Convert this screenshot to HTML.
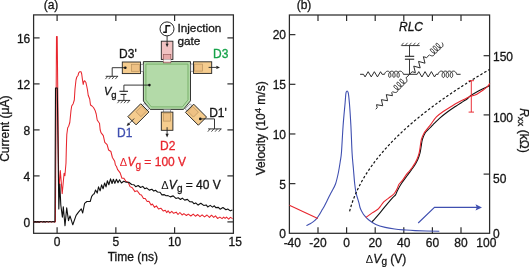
<!DOCTYPE html>
<html><head><meta charset="utf-8"><style>
html,body{margin:0;padding:0;background:#fff;}
body{width:529px;height:267px;overflow:hidden;}
svg{display:block;will-change:transform;font-family:"Liberation Sans",sans-serif;font-size:12px;fill:#151515;}
text{stroke:#151515;stroke-width:0.3px;}
</style></head><body>
<svg width="529" height="267" viewBox="0 0 529 267">
<rect x="33.6" y="14.9" width="199.8" height="218.4" fill="none" stroke="#2b2b2b" stroke-width="1.25"/>
<line x1="57.1" y1="233.3" x2="57.1" y2="227.3" stroke="#2b2b2b" stroke-width="1.2"/>
<line x1="57.1" y1="14.9" x2="57.1" y2="20.9" stroke="#2b2b2b" stroke-width="1.2"/>
<line x1="115.85" y1="233.3" x2="115.85" y2="227.3" stroke="#2b2b2b" stroke-width="1.2"/>
<line x1="115.85" y1="14.9" x2="115.85" y2="20.9" stroke="#2b2b2b" stroke-width="1.2"/>
<line x1="174.6" y1="233.3" x2="174.6" y2="227.3" stroke="#2b2b2b" stroke-width="1.2"/>
<line x1="174.6" y1="14.9" x2="174.6" y2="20.9" stroke="#2b2b2b" stroke-width="1.2"/>
<line x1="33.6" y1="221.9" x2="39.6" y2="221.9" stroke="#2b2b2b" stroke-width="1.2"/>
<line x1="233.4" y1="221.9" x2="227.4" y2="221.9" stroke="#2b2b2b" stroke-width="1.2"/>
<line x1="33.6" y1="175.9" x2="39.6" y2="175.9" stroke="#2b2b2b" stroke-width="1.2"/>
<line x1="233.4" y1="175.9" x2="227.4" y2="175.9" stroke="#2b2b2b" stroke-width="1.2"/>
<line x1="33.6" y1="129.9" x2="39.6" y2="129.9" stroke="#2b2b2b" stroke-width="1.2"/>
<line x1="233.4" y1="129.9" x2="227.4" y2="129.9" stroke="#2b2b2b" stroke-width="1.2"/>
<line x1="33.6" y1="83.9" x2="39.6" y2="83.9" stroke="#2b2b2b" stroke-width="1.2"/>
<line x1="233.4" y1="83.9" x2="227.4" y2="83.9" stroke="#2b2b2b" stroke-width="1.2"/>
<line x1="33.6" y1="37.9" x2="39.6" y2="37.9" stroke="#2b2b2b" stroke-width="1.2"/>
<line x1="233.4" y1="37.9" x2="227.4" y2="37.9" stroke="#2b2b2b" stroke-width="1.2"/>
<text x="30.3" y="226.5" text-anchor="end">0</text>
<text x="30.3" y="180.5" text-anchor="end">4</text>
<text x="30.3" y="134.5" text-anchor="end">8</text>
<text x="30.3" y="88.5" text-anchor="end">12</text>
<text x="30.3" y="42.5" text-anchor="end">16</text>
<text x="57.1" y="246" text-anchor="middle">0</text>
<text x="115.85" y="246" text-anchor="middle">5</text>
<text x="174.6" y="246" text-anchor="middle">10</text>
<text x="235.15" y="246" text-anchor="middle">15</text>
<text x="51" y="8.9" text-anchor="middle">(a)</text>
<text x="132.8" y="260.6" text-anchor="middle">Time (ns)</text>
<text transform="translate(9.2,128.7) rotate(-90)" text-anchor="middle">Current (μA)</text>
<rect x="289.4" y="15" width="200.2" height="218.3" fill="none" stroke="#2b2b2b" stroke-width="1.25"/>
<line x1="318" y1="233.3" x2="318" y2="227.3" stroke="#2b2b2b" stroke-width="1.2"/>
<line x1="318" y1="15" x2="318" y2="21" stroke="#2b2b2b" stroke-width="1.2"/>
<line x1="346.6" y1="233.3" x2="346.6" y2="227.3" stroke="#2b2b2b" stroke-width="1.2"/>
<line x1="346.6" y1="15" x2="346.6" y2="21" stroke="#2b2b2b" stroke-width="1.2"/>
<line x1="375.2" y1="233.3" x2="375.2" y2="227.3" stroke="#2b2b2b" stroke-width="1.2"/>
<line x1="375.2" y1="15" x2="375.2" y2="21" stroke="#2b2b2b" stroke-width="1.2"/>
<line x1="403.8" y1="233.3" x2="403.8" y2="227.3" stroke="#2b2b2b" stroke-width="1.2"/>
<line x1="403.8" y1="15" x2="403.8" y2="21" stroke="#2b2b2b" stroke-width="1.2"/>
<line x1="432.4" y1="233.3" x2="432.4" y2="227.3" stroke="#2b2b2b" stroke-width="1.2"/>
<line x1="432.4" y1="15" x2="432.4" y2="21" stroke="#2b2b2b" stroke-width="1.2"/>
<line x1="461" y1="233.3" x2="461" y2="227.3" stroke="#2b2b2b" stroke-width="1.2"/>
<line x1="461" y1="15" x2="461" y2="21" stroke="#2b2b2b" stroke-width="1.2"/>
<line x1="289.4" y1="183.64" x2="295.4" y2="183.64" stroke="#2b2b2b" stroke-width="1.2"/>
<line x1="289.4" y1="133.97" x2="295.4" y2="133.97" stroke="#2b2b2b" stroke-width="1.2"/>
<line x1="289.4" y1="84.31" x2="295.4" y2="84.31" stroke="#2b2b2b" stroke-width="1.2"/>
<line x1="289.4" y1="34.64" x2="295.4" y2="34.64" stroke="#2b2b2b" stroke-width="1.2"/>
<line x1="489.6" y1="174.1" x2="483.6" y2="174.1" stroke="#2b2b2b" stroke-width="1.2"/>
<line x1="489.6" y1="114.9" x2="483.6" y2="114.9" stroke="#2b2b2b" stroke-width="1.2"/>
<line x1="489.6" y1="55.7" x2="483.6" y2="55.7" stroke="#2b2b2b" stroke-width="1.2"/>
<text x="286" y="237.6" text-anchor="end">0</text>
<text x="286" y="188.94" text-anchor="end">5</text>
<text x="286" y="139.27" text-anchor="end">10</text>
<text x="286" y="88.95" text-anchor="end">15</text>
<text x="286" y="38.64" text-anchor="end">20</text>
<text x="493" y="237.6">0</text>
<text x="493" y="183.2">50</text>
<text x="493" y="121.8">100</text>
<text x="493" y="61.2">150</text>
<text x="292.3" y="247" text-anchor="middle">-40</text>
<text x="318" y="247" text-anchor="middle">-20</text>
<text x="346.6" y="247" text-anchor="middle">0</text>
<text x="375.2" y="247" text-anchor="middle">20</text>
<text x="403.8" y="247" text-anchor="middle">40</text>
<text x="432.4" y="247" text-anchor="middle">60</text>
<text x="461" y="247" text-anchor="middle">80</text>
<text x="486.3" y="247" text-anchor="middle">100</text>
<text x="304" y="8.9" text-anchor="middle">(b)</text>
<text x="386" y="262.5" text-anchor="middle"><tspan style="stroke-width:0" font-size="11">Δ</tspan><tspan font-style="italic" dx="0.3">V</tspan><tspan font-size="10" dy="2.5">g</tspan><tspan dy="-2.5"> (V)</tspan></text>
<text transform="translate(264.8,128.3) rotate(-90)" text-anchor="middle">Velocity (10<tspan font-size="9.5" dy="-4.2">4</tspan><tspan dy="4.2"> m/s)</tspan></text>
<text transform="translate(519.8,130.4) rotate(90)" text-anchor="middle"><tspan font-style="italic">R</tspan><tspan font-size="9.5" dy="2">xx</tspan><tspan dy="-2"> (kΩ)</tspan></text>
<polyline points="33.7,222.15 35,221.47 36.58,222.11 38.11,221.51 39.71,222.14 41.19,221.55 42.67,222.08 44.18,221.53 45.61,222.1 47.18,221.46 48.79,222.13 50.22,221.45 51.84,222.09 53.33,221.5 54.77,222.14 55.4,221.8 56.5,36.4 57.2,36.4 58.8,192 60.3,170.6 62.2,193.6 64.1,173.2 64.9,175.7 66,163 66.3,150 66.6,140 66.8,134.5 67.7,127.7 68.7,126.2 69.8,122.5 71,110.5 71.7,106 73.2,103.7 74.3,100 75,89 76,80 76.8,77 78,75.5 78.7,72.8 79.8,71.7 81,71.7 81.7,74 82.5,80 83.2,84.5 84,81.2 84.7,80.7 85.8,82.2 86.7,86 87.5,90 88.2,95.2 89.7,99 90.5,105 92,106 93.5,107.5 95,110.2 96.2,114 97.2,120 98.7,122.2 99.5,123.3 100.2,130 101,132.6 103.3,135.6 104.8,142.4 107.1,144.7 108.6,150 110.9,151.5 112.4,157.5 114.7,161.3 115.4,165 116.5,166.5 117.5,169.38 120.15,172.93 121.94,178.26 123.74,178.17 125.88,181.18 128.27,182.49 130.06,186.65 132.27,187.77 134.93,191.61 137.18,190.81 139.81,194.41 141.43,194.89 143.49,198.43 145.25,198.56 147.19,201.59 148.93,201.3 151.06,205 152.39,204 154.57,207.34 156.39,205.84 158.52,208.99 160.83,208.19 163.37,211.08 165.23,210.2 166.7,212.59 168.1,210.69 169.81,213.07 171.75,211.27 173.57,213.33 176.2,212.16 178,214.5 179.89,212.51 182.1,214.97 183.9,213.64 186.41,215.49 188.28,214.11 190.84,215.99 193.22,214.14 195.42,216.21 197.78,214.51 199.98,216.62 202.09,214.83 204.52,216.91 207.02,215 209.43,217.42 211.51,215.19 213.72,217.42 215.51,215.9 217.54,218.42 219.88,217.09 222.06,218.61 223.66,217.14 225.1,218.38 226.5,217.15 228.69,219.09 230.4,217.34 232.63,218.62" fill="none" stroke="#e8262e" stroke-width="1.05" stroke-linejoin="round"/>
<polyline points="33.7,222.14 35.27,221.63 36.57,222.1 37.88,221.63 39.21,222.14 40.74,221.57 42.4,222.08 43.82,221.63 45.38,222.1 46.68,221.57 48.1,222.08 49.73,221.59 51.24,222.09 52.96,221.56 54.3,222.02 54.9,221.8 55.5,88 57.3,88 58.8,209 59.8,184 60.8,205 62.4,217.3 63.3,206.9 65,225.8 66.7,207.8 68.5,220.6 70,215.9 72.8,224.8 76.1,215.4 78.5,212.1 81.3,208.8 82.7,213 84.6,203.4 86.9,201.5 90.2,201.5 91.7,196.3 93.5,194 94.2,193.87 95.54,190.03 97.22,193.09 98.51,186.89 100.11,190.86 101.61,184.9 103.06,188.74 104.64,183.01 106.04,186.9 107.4,180.74 108.85,184.77 110.53,178.88 112.06,183.49 113.38,179.27 114.87,183.35 116.44,179.28 117.99,182.76 119.53,179.72 121.43,182.99 123.69,181.2 126.12,182.29 128.8,182.27 131.67,184.48 133.78,184.73 135.72,186.72 138.18,185.47 140.53,187.53 142.75,186.37 144.74,188.68 146.56,187.9 149.26,190.14 151.86,189.24 153.79,191.11 155.42,190.28 157.54,192 160.03,192.29 161.95,194.92 164.33,194.64 166.09,195.73 168.04,195.63 170.32,196.89 173.18,195.87 175.9,198.44 178.18,197.75 180.53,199.49 182.27,198.16 184.69,200.15 187.4,199.38 189.9,201.8 192.33,201.9 193.9,203.66 195.72,202.91 198.12,205.06 200.78,203.19 203.69,205.42 206.2,204.93 207.69,206.93 210.2,205.4 212.56,207.1 214.35,205.79 215.78,207.59 218.4,207.35 220.1,209.19 222.94,207.51 225.94,209.77 227.71,209.07 230.35,210.84 232.41,210.06" fill="none" stroke="#111" stroke-width="1.1" stroke-linejoin="round"/>
<path d="M306.4,225.6 C307.03,225.28 309.03,224.37 310.2,223.7 C311.37,223.03 312.33,222.45 313.4,221.6 C314.47,220.75 315.55,219.85 316.6,218.6 C317.65,217.35 318.75,215.6 319.7,214.1 C320.65,212.6 321.45,211.08 322.3,209.6 C323.15,208.12 323.95,206.78 324.8,205.2 C325.65,203.62 326.55,201.8 327.4,200.1 C328.25,198.4 329.15,196.48 329.9,195 C330.65,193.52 330.95,193.08 331.9,191.2 C332.85,189.32 334.52,186.82 335.6,183.7 C336.68,180.58 337.62,176.25 338.4,172.5 C339.18,168.75 339.78,164.62 340.3,161.2 C340.82,157.78 341.03,157.92 341.5,152 C341.97,146.08 342.5,133.87 343.1,125.7 C343.7,117.53 344.6,108.57 345.1,103 C345.6,97.43 345.6,94.08 346.1,92.3 C346.6,90.52 347.55,90.52 348.1,92.3 C348.65,94.08 348.93,97.43 349.4,103 C349.87,108.57 350.45,117.32 350.9,125.7 C351.35,134.08 351.68,146.13 352.1,153.3 C352.52,160.47 352.97,163.63 353.4,168.7 C353.83,173.77 354.25,179.63 354.7,183.7 C355.15,187.77 355.42,190 356.1,193.1 C356.78,196.2 358.12,199.82 358.8,202.3 C359.48,204.78 359.67,206.42 360.2,208 C360.73,209.58 361.28,210.53 362,211.8 C362.72,213.07 363.3,214.18 364.5,215.6 C365.7,217.02 367.32,218.82 369.2,220.3 C371.08,221.78 373.13,223.32 375.8,224.5 C378.47,225.68 382.05,226.65 385.2,227.4 C388.35,228.15 391.55,228.58 394.7,229 C397.85,229.42 400.7,229.63 404.1,229.9 C407.5,230.17 409.23,230.37 415.1,230.6 C420.97,230.83 435.27,231.18 439.3,231.3" fill="none" stroke="#3f4fb0" stroke-width="1.1" stroke-linejoin="round"/>
<line x1="289.4" y1="205.2" x2="317.8" y2="218.6" stroke="#e8262e" stroke-width="1.1"/>
<path d="M372,221.7 C372.47,221.23 373.4,220.45 374.8,218.9 C376.2,217.35 378.45,214.75 380.4,212.4 C382.35,210.05 384.45,207.27 386.5,204.8 C388.55,202.33 391.2,199.25 392.7,197.6 C394.2,195.95 394.7,196.1 395.5,194.9 C396.3,193.7 396.48,192.33 397.5,190.4 C398.52,188.47 400.07,185.67 401.6,183.3 C403.13,180.93 405.3,178.12 406.7,176.2 C408.1,174.28 408.95,173.2 410,171.8 C411.05,170.4 412.12,169.07 413,167.8 C413.88,166.53 414.5,165.58 415.3,164.2 C416.1,162.82 417.03,161.3 417.8,159.5 C418.57,157.7 419.37,155.4 419.9,153.4 C420.43,151.4 420.58,149.83 421,147.5 C421.42,145.17 421.73,141.77 422.4,139.4 C423.07,137.03 424.05,134.92 425,133.3 C425.95,131.68 426.82,131.07 428.1,129.7 C429.38,128.33 430.8,126.98 432.7,125.1 C434.6,123.22 437,120.62 439.5,118.4 C442,116.18 444.98,113.83 447.7,111.8 C450.42,109.77 453.25,107.9 455.8,106.2 C458.35,104.5 461.13,102.8 463,101.6 C464.87,100.4 465.73,100 467,99 C468.27,98 468.98,96.78 470.6,95.6 C472.22,94.42 474.65,93.03 476.7,91.9 C478.75,90.77 480.72,89.85 482.9,88.8 C485.08,87.75 488.65,86.13 489.8,85.6" fill="none" stroke="#111" stroke-width="1.1" stroke-linejoin="round"/>
<path d="M365.9,217.5 C366.95,216.73 370.2,214.27 372.2,212.9 C374.2,211.53 376.53,210.4 377.9,209.3 C379.27,208.2 379.38,207.57 380.4,206.3 C381.42,205.03 382.63,203.07 384,201.7 C385.37,200.33 387.12,199.23 388.6,198.1 C390.08,196.97 391.83,195.83 392.9,194.9 C393.97,193.97 394.23,193.67 395,192.5 C395.77,191.33 396.83,189.27 397.5,187.9 C398.17,186.53 398.15,185.58 399,184.3 C399.85,183.02 401.32,181.9 402.6,180.2 C403.88,178.5 405.57,175.63 406.7,174.1 C407.83,172.57 408.55,172.02 409.4,171 C410.25,169.98 410.95,169.18 411.8,168 C412.65,166.82 413.63,165.35 414.5,163.9 C415.37,162.45 416.23,161.08 417,159.3 C417.77,157.52 418.58,155.17 419.1,153.2 C419.62,151.23 419.72,149.8 420.1,147.5 C420.48,145.2 420.75,141.77 421.4,139.4 C422.05,137.03 423.07,135 424,133.3 C424.93,131.6 425.9,130.65 427,129.2 C428.1,127.75 429.03,126.65 430.6,124.6 C432.17,122.55 434.23,119.12 436.4,116.9 C438.57,114.68 441.05,113.08 443.6,111.3 C446.15,109.52 449.32,107.65 451.7,106.2 C454.08,104.75 455.52,103.88 457.9,102.6 C460.28,101.32 463.88,99.57 466,98.5 C468.12,97.43 468.98,96.82 470.6,96.2 C472.22,95.58 473.65,95.8 475.7,94.8 C477.75,93.8 480.95,91.55 482.9,90.2 C484.85,88.85 486.25,87.83 487.4,86.7 C488.55,85.57 489.4,83.95 489.8,83.4" fill="none" stroke="#e8262e" stroke-width="1.1" stroke-linejoin="round"/>
<polyline points="349.6,211.3 350.1,209.43 350.6,207.67 351.1,206.01 351.6,204.44 352.1,202.94 352.6,201.5 353.1,200.12 353.6,198.79 354.1,197.5 354.6,196.26 355.1,195.05 355.6,193.87 356.1,192.73 356.6,191.62 357.1,190.53 357.6,189.47 358.1,188.43 358.6,187.42 359.1,186.42 359.6,185.45 360.1,184.49 360.6,183.55 361.1,182.63 361.6,181.72 362.1,180.83 362.6,179.95 363.1,179.08 363.6,178.23 364.1,177.39 364.6,176.56 365.1,175.75 365.6,174.94 366.1,174.15 366.6,173.36 367.1,172.59 367.6,171.82 368.1,171.07 368.6,170.32 369.1,169.58 369.6,168.85 370.1,168.13 370.6,167.41 371.1,166.7 371.6,166 372.1,165.31 372.6,164.62 373.1,163.94 373.6,163.27 374.1,162.6 374.6,161.94 375.1,161.28 375.6,160.63 376.1,159.99 376.6,159.35 377.1,158.71 377.6,158.09 378.1,157.46 378.6,156.84 379.1,156.23 379.6,155.62 380.1,155.02 380.6,154.42 381.1,153.82 381.6,153.23 382.1,152.65 382.6,152.06 383.1,151.49 383.6,150.91 384.1,150.34 384.6,149.77 385.1,149.21 385.6,148.65 386.1,148.1 386.6,147.54 387.1,147 387.6,146.45 388.1,145.91 388.6,145.37 389.1,144.83 389.6,144.3 390.1,143.77 390.6,143.25 391.1,142.72 391.6,142.2 392.1,141.69 392.6,141.17 393.1,140.66 393.6,140.15 394.1,139.65 394.6,139.14 395.1,138.64 395.6,138.15 396.1,137.65 396.6,137.16 397.1,136.67 397.6,136.18 398.1,135.69 398.6,135.21 399.1,134.73 399.6,134.25 400.1,133.77 400.6,133.3 401.1,132.83 401.6,132.36 402.1,131.89 402.6,131.43 403.1,130.96 403.6,130.5 404.1,130.04 404.6,129.59 405.1,129.13 405.6,128.68 406.1,128.23 406.6,127.78 407.1,127.33 407.6,126.89 408.1,126.44 408.6,126 409.1,125.56 409.6,125.12 410.1,124.69 410.6,124.25 411.1,123.82 411.6,123.39 412.1,122.96 412.6,122.53 413.1,122.1 413.6,121.68 414.1,121.25 414.6,120.83 415.1,120.41 415.6,119.99 416.1,119.58 416.6,119.16 417.1,118.75 417.6,118.34 418.1,117.93 418.6,117.52 419.1,117.11 419.6,116.7 420.1,116.3 420.6,115.89 421.1,115.49 421.6,115.09 422.1,114.69 422.6,114.29 423.1,113.89 423.6,113.5 424.1,113.1 424.6,112.71 425.1,112.32 425.6,111.93 426.1,111.54 426.6,111.15 427.1,110.76 427.6,110.38 428.1,109.99 428.6,109.61 429.1,109.23 429.6,108.85 430.1,108.47 430.6,108.09 431.1,107.71 431.6,107.34 432.1,106.96 432.6,106.59 433.1,106.21 433.6,105.84 434.1,105.47 434.6,105.1 435.1,104.73 435.6,104.37 436.1,104 436.6,103.63 437.1,103.27 437.6,102.91 438.1,102.54 438.6,102.18 439.1,101.82 439.6,101.46 440.1,101.1 440.6,100.75 441.1,100.39 441.6,100.04 442.1,99.68 442.6,99.33 443.1,98.97 443.6,98.62 444.1,98.27 444.6,97.92 445.1,97.57 445.6,97.22 446.1,96.88 446.6,96.53 447.1,96.19 447.6,95.84 448.1,95.5 448.6,95.15 449.1,94.81 449.6,94.47 450.1,94.13 450.6,93.79 451.1,93.45 451.6,93.11 452.1,92.78 452.6,92.44 453.1,92.11 453.6,91.77 454.1,91.44 454.6,91.1 455.1,90.77 455.6,90.44 456.1,90.11 456.6,89.78 457.1,89.45 457.6,89.12 458.1,88.79 458.6,88.47 459.1,88.14 459.6,87.82 460.1,87.49 460.6,87.17 461.1,86.84 461.6,86.52 462.1,86.2 462.6,85.88 463.1,85.56 463.6,85.24 464.1,84.92 464.6,84.6 465.1,84.28 465.6,83.97 466.1,83.65 466.6,83.33 467.1,83.02 467.6,82.7 468.1,82.39 468.6,82.08 469.1,81.77 469.6,81.45 470.1,81.14 470.6,80.83 471.1,80.52 471.6,80.21 472.1,79.9 472.6,79.6 473.1,79.29 473.6,78.98 474.1,78.68 474.6,78.37 475.1,78.07 475.6,77.76 476.1,77.46 476.6,77.16 477.1,76.85 477.6,76.55 478.1,76.25 478.6,75.95 479.1,75.65 479.6,75.35 480.1,75.05 480.6,74.75 481.1,74.45 481.6,74.16 482.1,73.86 482.6,73.56 483.1,73.27 483.6,72.97 484.1,72.68 484.6,72.39 485.1,72.09 485.6,71.8 486.1,71.51 486.6,71.21 487.1,70.92 487.6,70.63 488.1,70.34 488.6,70.05 489.1,69.76 489.6,69.48" fill="none" stroke="#111" stroke-width="1.2" stroke-dasharray="2.5 2"/>
<g stroke="#e8262e" stroke-width="0.95"><line x1="471.3" y1="80.7" x2="471.3" y2="112.1"/><line x1="468.6" y1="80.7" x2="474" y2="80.7"/><line x1="468.6" y1="112.1" x2="474" y2="112.1"/></g>
<polyline points="418.2,223 434.5,207.4 477,207.4" fill="none" stroke="#3f4fb0" stroke-width="1.1"/>
<polygon points="482,207.4 475.5,204.2 476.8,207.4 475.5,210.6" fill="#3f4fb0"/>
<text x="119.8" y="165.9" fill="#e8262e" style="fill:#e8262e;stroke:#e8262e"><tspan style="stroke-width:0" font-size="11">Δ</tspan><tspan font-style="italic" dx="0.3">V</tspan><tspan font-size="10" dy="2.6">g</tspan><tspan dy="-2.6"> = 100 V</tspan></text>
<text x="161.2" y="189.1"><tspan style="stroke-width:0" font-size="11">Δ</tspan><tspan font-style="italic" dx="0.3">V</tspan><tspan font-size="10" dy="2.6">g</tspan><tspan dy="-2.6"> = 40 V</tspan></text>
<polygon points="143.4,61.6 190.5,61.6 190.5,100.8 183.5,109.4 150.2,109.4 143.4,101" fill="#b3daa8" stroke="#222" stroke-width="0.9"/>
<polygon points="145.9,64.1 188,64.1 188,99.8 182.4,106.9 151.3,106.9 145.9,100" fill="none" stroke="#6aa85c" stroke-width="0.8"/>
<rect x="163.6" y="54.3" width="7.2" height="8.6" fill="#e7a9a9" stroke="#7a4a4a" stroke-width="0.6"/>
<rect x="161.3" y="41.2" width="11.6" height="18.2" fill="#f1c2c2" stroke="#222" stroke-width="0.9"/>
<rect x="163.6" y="54.3" width="7.2" height="5.1" fill="#e7a9a9" stroke="#8a5050" stroke-width="0.6"/>
<rect x="163.6" y="59.4" width="7.2" height="2.2" fill="#f4f4f4" stroke="none"/>
<line x1="167.1" y1="36" x2="167.1" y2="44" stroke="#222" stroke-width="0.9"/>
<polygon points="167.1,47.2 165.57,43.8 168.63,43.8" fill="#222"/>
<circle cx="167" cy="28.9" r="7" fill="#fff" stroke="#222" stroke-width="1"/>
<polyline points="163.2,32.2 166.1,32.2 166.1,25.8 170.4,25.8" fill="none" stroke="#111" stroke-width="1.5"/>
<text x="177.4" y="32" font-size="11.8">Injection</text>
<text x="177.4" y="45.4" font-size="11.8">gate</text>
<g transform="translate(131.4,67.8) rotate(90)"><rect x="-3.6" y="-11.9" width="7.2" height="3" fill="#eef0f4" stroke="#555" stroke-width="0.5"/><rect x="-5.8" y="-9.1" width="11.6" height="18.2" fill="#f5cc8e" stroke="#222" stroke-width="0.9"/><rect x="-3.5" y="-8.1" width="7" height="8" fill="#eec184" stroke="#b8925e" stroke-width="0.7"/></g>
<circle cx="125.3" cy="67.7" r="1.3" fill="#111"/>
<polyline points="125.3,67.7 112.2,67.7 112.2,76.3" fill="none" stroke="#222" stroke-width="0.9"/>
<line x1="105.7" y1="76.3" x2="118.1" y2="76.3" stroke="#222" stroke-width="0.9"/><line x1="107.8" y1="76.3" x2="105.4" y2="79.1" stroke="#222" stroke-width="0.8"/><line x1="111.1" y1="76.3" x2="108.7" y2="79.1" stroke="#222" stroke-width="0.8"/><line x1="114.4" y1="76.3" x2="112" y2="79.1" stroke="#222" stroke-width="0.8"/><line x1="117.7" y1="76.3" x2="115.3" y2="79.1" stroke="#222" stroke-width="0.8"/>
<text x="119.1" y="57.5">D3'</text>
<g transform="translate(202.6,67.6) rotate(-90)"><rect x="-3.6" y="-11.9" width="7.2" height="3" fill="#eef0f4" stroke="#555" stroke-width="0.5"/><rect x="-5.8" y="-9.1" width="11.6" height="18.2" fill="#f5cc8e" stroke="#222" stroke-width="0.9"/><rect x="-3.5" y="-8.1" width="7" height="8" fill="#eec184" stroke="#b8925e" stroke-width="0.7"/></g>
<line x1="208.6" y1="67.4" x2="216.5" y2="67.4" stroke="#222" stroke-width="0.9"/>
<polygon points="220,67.4 216.4,69.02 216.4,65.78" fill="#222"/>
<text x="213.1" y="57.7" style="fill:#16a34a;stroke:#16a34a">D3</text>
<g transform="translate(167.1,121.2) rotate(0)"><rect x="-3.6" y="-11.9" width="7.2" height="3" fill="#eef0f4" stroke="#555" stroke-width="0.5"/><rect x="-5.8" y="-9.1" width="11.6" height="18.2" fill="#f5cc8e" stroke="#222" stroke-width="0.9"/><rect x="-3.5" y="-8.1" width="7" height="8" fill="#eec184" stroke="#b8925e" stroke-width="0.7"/></g>
<line x1="167.1" y1="127.2" x2="167.1" y2="134" stroke="#222" stroke-width="0.9"/>
<polygon points="167.1,137.4 165.48,133.8 168.72,133.8" fill="#222"/>
<text x="160" y="149.5" style="fill:#e8262e;stroke:#e8262e">D2</text>
<g transform="translate(138.4,114.3) rotate(45)"><rect x="-3.6" y="-11.9" width="7.2" height="3" fill="#eef0f4" stroke="#555" stroke-width="0.5"/><rect x="-5.8" y="-9.1" width="11.6" height="18.2" fill="#f5cc8e" stroke="#222" stroke-width="0.9"/><rect x="-3.5" y="-8.1" width="7" height="8" fill="#eec184" stroke="#b8925e" stroke-width="0.7"/></g>
<line x1="134.16" y1="118.54" x2="128.5" y2="124.2" stroke="#222" stroke-width="0.9"/>
<polygon points="126.66,126.04 127.98,122.55 130.15,124.72" fill="#222"/>
<text x="117.1" y="136.8" style="fill:#3f4fb0;stroke:#3f4fb0">D1</text>
<g transform="translate(196,114.7) rotate(-45)"><rect x="-3.6" y="-11.9" width="7.2" height="3" fill="#eef0f4" stroke="#555" stroke-width="0.5"/><rect x="-5.8" y="-9.1" width="11.6" height="18.2" fill="#f5cc8e" stroke="#222" stroke-width="0.9"/><rect x="-3.5" y="-8.1" width="7" height="8" fill="#eec184" stroke="#b8925e" stroke-width="0.7"/></g>
<circle cx="200.3" cy="118.9" r="1.3" fill="#111"/>
<polyline points="200.3,118.9 214.5,118.9 214.5,128.9" fill="none" stroke="#222" stroke-width="0.9"/>
<line x1="208.1" y1="128.9" x2="221.5" y2="128.9" stroke="#222" stroke-width="0.9"/><line x1="210.2" y1="128.9" x2="207.8" y2="131.7" stroke="#222" stroke-width="0.8"/><line x1="213.83" y1="128.9" x2="211.43" y2="131.7" stroke="#222" stroke-width="0.8"/><line x1="217.47" y1="128.9" x2="215.07" y2="131.7" stroke="#222" stroke-width="0.8"/><line x1="221.1" y1="128.9" x2="218.7" y2="131.7" stroke="#222" stroke-width="0.8"/>
<text x="209.2" y="117.4">D1'</text>
<circle cx="149.4" cy="85.1" r="1.3" fill="#111"/>
<polyline points="149.4,85.1 123.9,85.1 123.9,91.3" fill="none" stroke="#222" stroke-width="0.9"/>
<line x1="119.4" y1="91.3" x2="128" y2="91.3" stroke="#222" stroke-width="1.1"/>
<line x1="120.5" y1="94.4" x2="126.4" y2="94.4" stroke="#222" stroke-width="1.1"/>
<line x1="123.9" y1="94.4" x2="123.9" y2="100.4" stroke="#222" stroke-width="0.9"/>
<line x1="117.7" y1="100.4" x2="130.1" y2="100.4" stroke="#222" stroke-width="0.9"/><line x1="119.8" y1="100.4" x2="117.4" y2="103.2" stroke="#222" stroke-width="0.8"/><line x1="123.1" y1="100.4" x2="120.7" y2="103.2" stroke="#222" stroke-width="0.8"/><line x1="126.4" y1="100.4" x2="124" y2="103.2" stroke="#222" stroke-width="0.8"/><line x1="129.7" y1="100.4" x2="127.3" y2="103.2" stroke="#222" stroke-width="0.8"/>
<text x="104" y="95.3"><tspan font-style="italic" font-size="11">V</tspan><tspan font-size="9.5" dy="2.3" dx="-0.2">g</tspan></text>
<text x="399" y="30.9" font-style="italic">RLC</text>
<polyline points="409.5,74.3 403.4,74.3 403.4,74.3 403.22,73.67 402.96,73.07 402.61,72.52 402.2,72.05 401.72,71.66 401.2,71.39 400.65,71.23 400.09,71.21 399.53,71.31 399,71.53 398.5,71.87 398.06,72.31 397.68,72.83 397.38,73.41 397.17,74.03 397.04,74.66 396.99,75.28 397.03,75.85 397.15,76.36 397.33,76.79 397.56,77.11 397.82,77.32 398.11,77.4 398.4,77.35 398.67,77.18 398.92,76.89 399.11,76.49 399.25,76 399.31,75.44 399.29,74.84 399.18,74.21 398.99,73.59 398.71,72.99 398.36,72.45 397.94,71.98 397.45,71.62 396.93,71.36 396.38,71.22 395.81,71.21 395.26,71.33 394.73,71.57 394.24,71.93 393.8,72.38 393.44,72.91 393.15,73.5 392.95,74.12 392.83,74.75 392.8,75.36 392.85,75.93 392.97,76.43 393.16,76.84 393.4,77.15 393.67,77.34 393.95,77.4 394.24,77.34 394.51,77.15 394.75,76.84 394.94,76.43 395.06,75.93 395.11,75.36 395.08,74.75 394.96,74.12 394.76,73.5 394.47,72.91 394.11,72.38 393.67,71.93 393.18,71.57 392.65,71.33 392.1,71.21 391.53,71.22 390.98,71.36 390.46,71.62 389.97,71.98 389.55,72.45 389.2,72.99 388.92,73.59 388.73,74.21 388.62,74.84 388.6,75.44 388.66,76 388.8,76.49 388.99,76.89 389.24,77.18 389.51,77.35 389.8,77.4 390.09,77.32 390.35,77.11 390.58,76.79 390.76,76.36 390.88,75.85 390.92,75.28 390.87,74.66 390.74,74.03 390.53,73.41 390.23,72.83 389.85,72.31 389.41,71.87 388.91,71.53 388.38,71.31 387.82,71.21 387.26,71.23 386.71,71.39 386.19,71.66 385.71,72.05 385.3,72.52 384.95,73.07 384.69,73.67 384.51,74.3 382.1,74.3 382.1,74.3 380.55,71.7 377.45,76.9 374.35,71.7 371.25,76.9 368.15,71.7 365.05,76.9 363.5,74.3 360.1,74.3" fill="none" stroke="#222" stroke-width="0.95" stroke-linejoin="round"/>
<polyline points="409.5,74.3 417.2,74.3 417.2,74.3 418.77,71.6 421.93,77 425.07,71.6 428.23,77 431.38,71.6 434.52,77 436.1,74.3 438.1,74.3 438.1,74.3 438.28,73.65 438.54,73.03 438.89,72.46 439.32,71.97 439.8,71.58 440.34,71.29 440.9,71.13 441.48,71.11 442.05,71.21 442.6,71.44 443.11,71.79 443.56,72.24 443.94,72.78 444.25,73.38 444.46,74.02 444.59,74.67 444.62,75.31 444.57,75.9 444.44,76.43 444.24,76.87 443.99,77.2 443.7,77.41 443.38,77.5 443.07,77.45 442.77,77.27 442.51,76.97 442.29,76.56 442.14,76.06 442.06,75.48 442.07,74.86 442.17,74.21 442.36,73.56 442.64,72.95 443,72.39 443.43,71.91 443.93,71.53 444.47,71.26 445.04,71.12 445.61,71.11 446.18,71.23 446.73,71.48 447.23,71.85 447.67,72.32 448.04,72.86 448.34,73.47 448.54,74.11 448.65,74.76 448.67,75.39 448.61,75.98 448.47,76.5 448.26,76.92 448,77.24 447.71,77.43 447.39,77.5 447.08,77.43 446.78,77.24 446.52,76.92 446.32,76.5 446.18,75.98 446.11,75.39 446.13,74.76 446.25,74.11 446.45,73.47 446.74,72.86 447.11,72.32 447.55,71.85 448.06,71.48 448.6,71.23 449.17,71.11 449.75,71.12 450.32,71.26 450.86,71.53 451.35,71.91 451.78,72.39 452.14,72.95 452.42,73.56 452.61,74.21 452.71,74.86 452.72,75.48 452.64,76.06 452.49,76.56 452.28,76.97 452.01,77.27 451.71,77.45 451.4,77.5 451.09,77.41 450.8,77.2 450.54,76.87 450.35,76.43 450.21,75.9 450.16,75.31 450.2,74.67 450.32,74.02 450.54,73.38 450.84,72.78 451.22,72.24 451.68,71.79 452.18,71.44 452.73,71.21 453.31,71.11 453.88,71.13 454.45,71.29 454.98,71.58 455.47,71.97 455.89,72.46 456.24,73.03 456.51,73.65 456.68,74.3 460.6,74.3" fill="none" stroke="#222" stroke-width="0.95" stroke-linejoin="round"/>
<polyline points="409.5,74.3 406.03,77.9 406.03,77.9 406.38,78.49 406.66,79.13 406.84,79.78 406.91,80.44 406.87,81.06 406.72,81.64 406.45,82.15 406.08,82.58 405.62,82.91 405.07,83.13 404.47,83.24 403.82,83.23 403.16,83.12 402.5,82.91 401.88,82.61 401.3,82.24 400.8,81.81 400.39,81.36 400.07,80.9 399.87,80.46 399.78,80.06 399.81,79.72 399.94,79.45 400.18,79.28 400.5,79.21 400.89,79.25 401.32,79.41 401.79,79.67 402.26,80.05 402.71,80.51 403.11,81.05 403.46,81.65 403.72,82.29 403.89,82.95 403.94,83.6 403.89,84.22 403.72,84.79 403.44,85.29 403.05,85.71 402.58,86.02 402.02,86.23 401.41,86.32 400.76,86.3 400.1,86.17 399.44,85.94 398.83,85.63 398.26,85.25 397.77,84.82 397.37,84.37 397.07,83.91 396.88,83.48 396.81,83.08 396.85,82.75 397,82.49 397.25,82.33 397.58,82.28 397.98,82.34 398.42,82.51 398.89,82.79 399.36,83.18 399.8,83.66 400.2,84.21 400.53,84.82 400.78,85.46 400.93,86.12 400.98,86.77 400.91,87.38 400.72,87.94 400.42,88.43 400.02,88.83 399.53,89.13 398.97,89.32 398.35,89.39 397.7,89.36 397.04,89.22 396.39,88.98 395.77,88.65 395.22,88.27 394.74,87.83 394.35,87.38 394.07,86.92 393.9,86.49 393.84,86.1 393.9,85.78 394.06,85.54 394.32,85.39 394.66,85.36 395.07,85.43 395.52,85.62 395.99,85.92 396.45,86.32 396.89,86.8 397.28,87.37 397.6,87.98 397.84,88.63 397.98,89.29 398,89.93 397.92,90.54 397.72,91.09 397.4,91.57 396.99,91.95 396.49,92.24 395.92,92.41 395.29,92.47 394.64,92.42 393.97,92.26 393.33,92.01 392.72,91.67 391.79,92.64 391.79,92.64 392.44,95.71 386.27,94.61 387.58,100.74 381.41,99.65 382.72,105.78 376.54,104.68 377.2,107.75 375.74,109.26" fill="none" stroke="#222" stroke-width="0.95" stroke-linejoin="round"/>
<polyline points="409.5,74.3 412.15,71.72 412.15,71.72 415.38,72.62 413.74,66.11 420.2,67.91 418.56,61.41 425.02,63.21 423.37,56.71 426.61,57.61 428.97,55.3 429.4,54.88 430,55.26 430.63,55.56 431.29,55.76 431.93,55.86 432.55,55.85 433.11,55.72 433.6,55.48 434,55.13 434.3,54.68 434.5,54.15 434.57,53.56 434.53,52.92 434.39,52.27 434.14,51.61 433.82,50.99 433.42,50.41 432.98,49.9 432.51,49.47 432.03,49.15 431.58,48.94 431.18,48.84 430.83,48.86 430.57,48.99 430.41,49.22 430.35,49.54 430.41,49.93 430.58,50.37 430.86,50.85 431.24,51.33 431.72,51.8 432.27,52.22 432.87,52.59 433.52,52.87 434.17,53.06 434.81,53.15 435.42,53.12 435.97,52.97 436.45,52.72 436.84,52.35 437.13,51.89 437.3,51.35 437.36,50.75 437.31,50.11 437.15,49.45 436.89,48.8 436.55,48.18 436.15,47.61 435.7,47.11 435.23,46.7 434.76,46.39 434.31,46.2 433.91,46.11 433.58,46.15 433.33,46.29 433.18,46.54 433.14,46.87 433.21,47.27 433.4,47.72 433.69,48.2 434.09,48.68 434.58,49.14 435.14,49.56 435.75,49.91 436.4,50.18 437.05,50.36 437.69,50.43 438.29,50.38 438.84,50.22 439.3,49.95 439.68,49.57 439.95,49.1 440.11,48.55 440.15,47.94 440.08,47.3 439.9,46.64 439.63,45.99 439.28,45.37 438.87,44.81 438.42,44.33 437.95,43.93 437.48,43.64 437.04,43.46 436.65,43.39 436.33,43.44 436.09,43.6 435.96,43.86 435.93,44.2 436.02,44.61 436.22,45.07 436.53,45.54 436.94,46.02 437.44,46.48 438.01,46.89 438.63,47.24 439.28,47.5 439.93,47.66 440.57,47.71 441.16,47.65 441.7,47.47 442.15,47.18 442.51,46.79 442.76,46.3 442.91,45.74 442.93,45.13 442.85,44.48 442.66,43.82 442.38,43.18 442.02,42.57" fill="none" stroke="#222" stroke-width="0.95" stroke-linejoin="round"/>
<line x1="409.5" y1="74.3" x2="409.5" y2="59.2" stroke="#222" stroke-width="0.9"/>
<line x1="409.5" y1="56.3" x2="409.5" y2="45.6" stroke="#222" stroke-width="0.9"/>
<line x1="404.9" y1="59.2" x2="414.2" y2="59.2" stroke="#222" stroke-width="1.1"/>
<line x1="404.9" y1="56.3" x2="414.2" y2="56.3" stroke="#222" stroke-width="1.1"/>
<line x1="401.5" y1="45.6" x2="419.7" y2="45.6" stroke="#222" stroke-width="0.9"/><line x1="401.2" y1="45.6" x2="403.6" y2="42.8" stroke="#222" stroke-width="0.8"/><line x1="405.12" y1="45.6" x2="407.53" y2="42.8" stroke="#222" stroke-width="0.8"/><line x1="409.05" y1="45.6" x2="411.45" y2="42.8" stroke="#222" stroke-width="0.8"/><line x1="412.97" y1="45.6" x2="415.38" y2="42.8" stroke="#222" stroke-width="0.8"/><line x1="416.9" y1="45.6" x2="419.3" y2="42.8" stroke="#222" stroke-width="0.8"/>
</svg>
</body></html>
